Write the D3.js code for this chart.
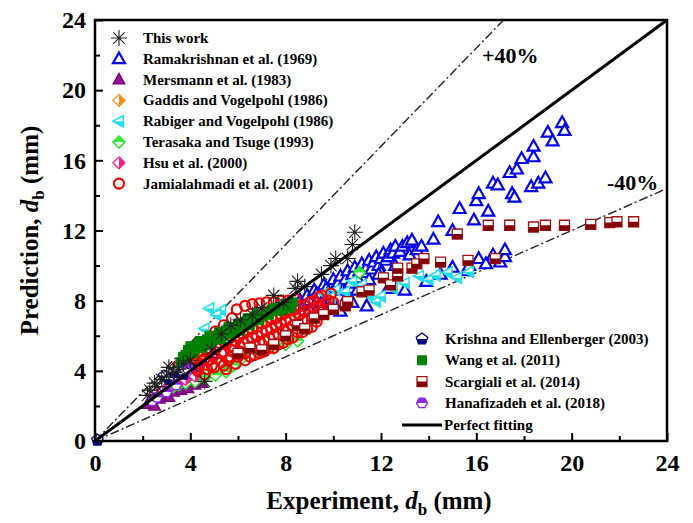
<!DOCTYPE html>
<html><head><meta charset="utf-8">
<script src="https://cdn.jsdelivr.net/npm/d3@7"></script>
<style>body{margin:0;background:#fff}svg{display:block}text{font-family:"Liberation Serif","Times New Roman",serif;font-weight:bold}</style>
</head><body><svg id="c" width="693" height="523"></svg>
<script>
const xTicks=[0,4,8,12,16,20,24];
const yTicks=[0,4,8,12,16,20,24];
const thisWork=[[2.2,2.6],[2.3,2.9],[2.5,3.3],[2.6,3.1],[2.8,3.5],[3.0,3.7],[3.1,4.2],[3.3,3.9],[3.5,4.1],[3.7,4.4],[4.0,4.6],[4.6,3.4],[4.9,5.2],[5.3,6.1],[5.7,6.6],[6.1,6.9],[6.6,7.2],[7.0,7.6],[7.5,8.3],[7.9,7.9],[8.4,8.7],[8.5,9.1],[8.8,8.8],[9.5,9.5],[9.9,10.0],[10.1,10.4],[10.6,10.4],[10.8,11.2],[10.9,11.9]];
const ramakrishnan=[[3.5,3.9],[4.0,4.3],[4.5,4.6],[5.0,5.0],[8.6,8.0],[8.8,7.8],[8.9,8.3],[9.0,8.0],[9.0,7.5],[9.2,8.6],[9.3,8.4],[9.4,8.2],[9.5,7.9],[9.6,8.9],[9.7,8.7],[9.8,8.5],[9.9,8.1],[10.0,9.2],[10.1,8.8],[10.2,9.0],[10.3,9.4],[10.4,8.6],[10.5,9.2],[10.6,9.7],[10.6,8.3],[10.7,9.0],[10.8,9.5],[10.9,9.9],[11.0,9.3],[11.0,8.6],[11.1,9.7],[11.2,10.1],[11.3,9.6],[11.4,9.9],[11.5,10.3],[11.5,9.2],[11.6,9.8],[11.7,10.2],[11.8,10.5],[11.9,10.0],[12.0,10.4],[12.0,9.6],[12.1,10.7],[12.2,10.3],[12.3,10.5],[12.4,10.9],[12.5,10.7],[12.6,11.1],[12.6,10.0],[12.8,10.8],[12.9,11.1],[13.1,11.3],[13.2,10.6],[13.3,11.45],[13.5,10.9],[13.7,11.1],[14.2,11.5],[14.4,12.5],[15.0,12.0],[15.3,13.25],[15.9,12.6],[16.0,13.7],[16.1,14.1],[16.5,13.1],[16.7,14.7],[16.9,14.6],[17.4,15.3],[17.5,14.1],[17.6,13.9],[17.7,15.5],[17.9,16.1],[18.3,14.5],[18.4,16.2],[18.4,16.8],[18.6,14.7],[18.9,15.0],[19.0,17.6],[19.2,17.1],[19.6,18.15],[19.7,17.7],[10.3,7.4],[10.8,7.9],[11.4,7.7],[11.9,9.5],[12.3,8.7],[13.0,8.6],[13.9,9.1],[14.5,9.5],[15.0,9.9],[15.6,9.7],[15.7,10.0],[16.1,10.4],[16.4,10.1],[16.7,10.6],[17.0,10.2],[17.2,10.5],[17.2,10.9]];
const mersmann=[[2.2,2.1],[2.35,2.3],[2.5,2.0],[2.7,2.4],[2.9,2.6],[3.1,2.5],[3.3,2.8],[3.6,2.9],[3.9,3.0],[4.2,3.2],[4.5,3.3]];
const gaddis=[[3.2,3.8],[3.6,4.2],[4.1,4.6],[4.5,5.0]];
const rabiger=[[4.6,6.4],[4.8,7.55],[5.3,7.45],[5.1,7.2],[9.6,8.4],[9.9,8.2],[10.1,8.6],[10.5,8.5],[10.8,9.1],[11.2,8.9],[11.5,8.3],[11.8,7.95],[12.0,8.25],[12.5,8.7],[13.0,9.0],[13.6,9.4],[14.0,9.2],[14.3,9.45],[14.8,9.6],[15.2,9.3],[15.7,9.65]];
const terasaka=[[3.3,3.1],[3.5,3.2],[3.8,3.3],[4.2,3.4],[4.6,3.6],[5.05,3.75],[5.5,3.95],[5.8,4.3],[6.15,4.7],[6.6,4.9],[7.0,5.1],[7.5,5.3],[8.0,5.5],[8.5,5.7],[11.1,9.6]];
const hsu=[[2.6,2.8],[2.9,2.9],[3.2,3.1],[3.5,3.3],[3.8,3.5],[4.2,3.7]];
const jamialahmadi=[[5.05,6.25],[5.4,6.6],[5.75,7.0],[5.95,7.5],[6.3,7.7],[6.6,7.8],[6.9,7.85],[7.2,7.9],[7.5,7.9],[7.8,8.0],[8.1,8.0],[8.4,8.1],[3.5,4.3],[3.6,4.0],[3.7,4.6],[3.8,4.4],[3.9,4.2],[4.0,4.9],[4.1,4.7],[4.2,4.5],[4.2,4.2],[4.3,4.0],[4.4,5.1],[4.4,4.4],[4.5,4.9],[4.6,4.7],[4.6,3.8],[4.7,4.1],[4.7,5.1],[4.8,5.3],[4.8,4.6],[4.9,4.3],[5.0,4.9],[5.0,4.2],[5.1,5.3],[5.1,4.7],[5.2,5.6],[5.3,4.5],[5.3,5.0],[5.4,5.1],[5.4,4.3],[5.5,4.1],[5.5,5.5],[5.6,5.8],[5.6,4.6],[5.7,4.8],[5.7,5.2],[5.8,5.4],[5.9,4.4],[5.9,5.7],[6.0,6.0],[6.0,4.8],[6.1,5.1],[6.1,5.4],[6.2,5.6],[6.2,6.1],[6.3,4.6],[6.3,5.0],[6.4,6.3],[6.4,5.7],[6.5,5.3],[6.5,4.8],[6.6,5.9],[6.6,6.4],[6.7,4.9],[6.7,5.4],[6.8,6.5],[6.8,6.0],[6.9,5.6],[6.9,5.0],[7.0,6.2],[7.0,6.7],[7.1,5.1],[7.1,5.7],[7.2,6.8],[7.2,6.3],[7.3,5.9],[7.3,5.3],[7.4,6.4],[7.4,7.0],[7.5,5.3],[7.5,6.0],[7.6,7.0],[7.6,6.6],[7.7,6.1],[7.7,5.5],[7.8,6.7],[7.8,7.2],[7.9,5.6],[7.9,6.3],[8.0,7.3],[8.0,6.9],[8.1,6.4],[8.1,5.8],[8.2,6.9],[8.2,7.5],[8.3,5.9],[8.3,6.6],[8.4,7.5],[8.4,7.1],[8.5,6.6],[8.5,6.2],[8.6,7.2],[8.6,7.7],[8.7,6.2],[8.7,6.9],[8.8,7.7],[8.8,7.4],[8.9,6.9],[8.9,6.4],[9.0,7.4],[9.0,7.9],[9.1,6.5],[9.1,7.1],[9.2,8.0],[9.2,7.6],[9.3,7.2],[9.3,6.8],[9.4,7.7],[9.4,8.2],[9.5,8.3],[9.5,7.4],[9.6,7.5],[9.7,7.8],[9.8,8.0],[9.9,8.4],[10.0,7.9]];
const krishna=[[0.1,0.05],[2.9,3.7],[3.1,3.5],[3.3,3.9],[3.5,4.0],[3.7,3.8],[3.9,4.2]];
const wang=[[3.6,4.5],[3.7,4.8],[3.8,4.9],[3.9,5.2],[4.0,5.4],[4.1,5.0],[4.2,5.2],[4.3,5.5],[4.4,5.7],[4.5,5.3],[4.6,5.5],[4.7,5.8],[4.8,6.0],[4.9,5.6],[5.0,5.8],[5.1,6.0],[5.2,6.2],[5.3,5.8],[5.4,6.0],[5.5,6.3],[5.6,6.5],[5.7,6.1],[5.8,6.3],[5.9,6.5],[6.0,6.7],[6.1,6.3],[6.2,6.5],[6.3,6.8],[6.4,7.0],[6.5,6.6],[6.6,6.8],[6.7,7.1],[6.8,7.3],[6.9,6.9],[7.0,7.1],[7.1,7.3],[7.3,7.2],[7.4,7.5],[7.6,7.6],[7.7,7.4],[7.9,7.5],[8.0,7.8],[8.2,7.6],[8.3,7.9]];
const scargiali=[[6.0,5.0],[6.5,5.3],[7.0,5.2],[7.5,5.5],[8.0,6.0],[8.5,6.6],[8.8,6.4],[9.2,7.0],[9.6,7.2],[10.0,7.5],[10.5,7.7],[10.6,7.95],[11.2,8.5],[11.5,8.6],[12.1,9.3],[12.4,8.9],[12.7,9.4],[12.7,9.85],[13.3,9.85],[13.5,10.1],[13.8,10.4],[14.5,10.2],[15.2,11.8],[15.65,10.3],[16.5,12.3],[16.8,10.4],[17.4,12.3],[18.4,12.2],[18.9,12.3],[19.7,12.3],[20.8,12.35],[21.6,12.45],[21.9,12.5],[22.6,12.5]];
const hanafizadeh=[[2.4,2.3],[2.6,2.5],[3.0,2.8],[3.4,3.2],[3.9,4.1]];

const W=693,H=523,L=95,R=667,T=20,B=441;
const svg=d3.select("#c");
const x=d3.scaleLinear().domain([0,24]).range([L,R]);
const y=d3.scaleLinear().domain([0,24]).range([B,T]);

const defs=svg.append("defs");
[["top",-20,-20,40,20],["bottom",-20,0,40,20],["left",-20,-20,20,40],["right",0,-20,20,40]].forEach(c=>{
  defs.append("clipPath").attr("id","clip-"+c[0]).append("rect").attr("x",c[1]).attr("y",c[2]).attr("width",c[3]).attr("height",c[4]);
});
defs.append("clipPath").attr("id","plotclip").append("rect").attr("x",L).attr("y",T).attr("width",R-L).attr("height",B-T);

function poly(pts){return "M"+pts.map(p=>p.join(",")).join("L")+"Z";}
function regular(n,r,rot){const a=[];for(let i=0;i<n;i++){const t=rot+i*2*Math.PI/n;a.push([r*Math.cos(t),r*Math.sin(t)]);}return poly(a);}
const shapes={
  triUp:r=>poly([[0,-r],[r*0.95,r*0.7],[-r*0.95,r*0.7]]),
  triLeft:r=>poly([[-r,0],[r*0.7,-r*0.95],[r*0.7,r*0.95]]),
  diamond:r=>poly([[0,-r],[r,0],[0,r],[-r,0]]),
  square:r=>poly([[-r,-r],[r,-r],[r,r],[-r,r]]),
  pentagon:r=>regular(5,r,-Math.PI/2),
  hexagon:r=>regular(6,r,0),
  circle:r=>`M${r},0A${r},${r} 0 1,1 ${-r},0A${r},${r} 0 1,1 ${r},0Z`,
  star:r=>{let s="";for(let i=0;i<4;i++){const t=i*Math.PI/4;s+=`M${r*Math.cos(t)},${r*Math.sin(t)}L${-r*Math.cos(t)},${-r*Math.sin(t)}`;}return s;}
};

const series=[
 {name:"This work",data:thisWork,shape:"star",r:8,stroke:"#222",fill:"none",sw:1.1},
 {name:"Ramakrishnan et al. (1969)",data:ramakrishnan,shape:"triUp",r:6.3,stroke:"#0000ee",fill:"#fff",sw:2.2},
 {name:"Mersmann et al. (1983)",data:mersmann,shape:"triUp",r:6,stroke:"#800080",fill:"#8b1a8b",sw:1.5},
 {name:"Gaddis and Vogelpohl (1986)",data:gaddis,shape:"diamond",r:6,stroke:"#ff8c1a",fill:"#fff",half:"right",hfill:"#ff8c1a",sw:1.3},
 {name:"Rabiger and Vogelpohl (1986)",data:rabiger,shape:"triLeft",r:6,stroke:"#22ddee",fill:"#fff",half:"bottom",hfill:"#22ddee",sw:1.5},
 {name:"Terasaka and Tsuge (1993)",data:terasaka,shape:"diamond",r:6,stroke:"#22dd22",fill:"#fff",half:"top",hfill:"#33ee33",sw:1.5},
 {name:"Hsu et al. (2000)",data:hsu,shape:"diamond",r:6,stroke:"#ee2288",fill:"#fff",half:"right",hfill:"#ee2288",sw:1.3},
 {name:"Jamialahmadi et al. (2001)",data:jamialahmadi,shape:"circle",r:5,stroke:"#ee0000",fill:"none",sw:2.2},
 {name:"Krishna and Ellenberger (2003)",data:krishna,shape:"pentagon",r:6,stroke:"#000080",fill:"#fff",half:"bottom",hfill:"#000080",sw:1.3},
 {name:"Wang et al. (2011)",data:wang,shape:"square",r:4.5,stroke:"#008000",fill:"#008000",sw:1},
 {name:"Scargiali et al. (2014)",data:scargiali,shape:"square",r:5,stroke:"#a01010",fill:"#fff",half:"bottom",hfill:"#800000",sw:1.3},
 {name:"Hanafizadeh et al. (2018)",data:hanafizadeh,shape:"hexagon",r:5.5,stroke:"#8a2be2",fill:"#fff",half:"top",hfill:"#8a2be2",sw:1.3}
];

function drawMarker(g,s){
  g.append("path").attr("d",shapes[s.shape](s.r)).attr("fill",s.fill).attr("stroke",s.stroke).attr("stroke-width",s.sw);
  if(s.half){g.append("path").attr("d",shapes[s.shape](s.r)).attr("fill",s.hfill).attr("stroke","none").attr("clip-path","url(#clip-"+s.half+")");}
}

const lines=svg.append("g").attr("clip-path","url(#plotclip)");
lines.append("line").attr("x1",x(0)).attr("y1",y(0)).attr("x2",x(24/1.4)).attr("y2",y(24)).attr("stroke","#222").attr("stroke-width",1.4).attr("stroke-dasharray","9,3,2,3");
lines.append("line").attr("x1",x(0)).attr("y1",y(0)).attr("x2",x(24)).attr("y2",y(24*0.6)).attr("stroke","#222").attr("stroke-width",1.4).attr("stroke-dasharray","9,3,2,3");

const order=[1,2,3,4,5,6,7,8,9,10,11,0];
const pts=svg.append("g");
order.forEach(i=>{const s=series[i];
  s.data.forEach(d=>{const g=pts.append("g").attr("transform",`translate(${x(d[0])},${y(d[1])})`);drawMarker(g,s);});
});
svg.append("line").attr("x1",x(0)).attr("y1",y(0)).attr("x2",x(24)).attr("y2",y(24)).attr("stroke","#000").attr("stroke-width",3);

const xAxis=d3.axisBottom(x).tickValues(d3.range(0,25,2)).tickSize(-8).tickFormat(d=>xTicks.includes(d)?d:"");
const yAxis=d3.axisLeft(y).tickValues(d3.range(0,25,2)).tickSize(-8).tickFormat(d=>yTicks.includes(d)?d:"");
const gx=svg.append("g").attr("transform",`translate(0,${B})`).call(xAxis);
const gy=svg.append("g").attr("transform",`translate(${L},0)`).call(yAxis);
[gx,gy].forEach(g=>{g.select(".domain").remove();g.selectAll(".tick line").attr("stroke","#000").attr("stroke-width",2);
  g.selectAll(".tick text").style("font-size","24px").attr("fill","#000");});
gx.selectAll(".tick").filter(d=>!xTicks.includes(d)).select("line").attr("y2",-5);
gy.selectAll(".tick").filter(d=>!yTicks.includes(d)).select("line").attr("x2",5);
gx.selectAll(".tick text").attr("y",13).attr("dy","0.71em");
gy.selectAll(".tick text").attr("x",-9);
svg.append("rect").attr("x",L).attr("y",T).attr("width",R-L).attr("height",B-T).attr("fill","none").attr("stroke","#000").attr("stroke-width",2.5);

const xt=svg.append("text").attr("x",(L+R)/2-2).attr("y",509).attr("text-anchor","middle").style("font-size","25px");
xt.append("tspan").text("Experiment, ");xt.append("tspan").style("font-style","italic").text("d");
xt.append("tspan").attr("dy",6).style("font-size","17px").text("b");xt.append("tspan").attr("dy",-6).text(" (mm)");
const yt=svg.append("text").attr("transform",`translate(38,${(T+B)/2}) rotate(-90)`).attr("text-anchor","middle").style("font-size","25px");
yt.append("tspan").text("Prediction, ");yt.append("tspan").style("font-style","italic").text("d");
yt.append("tspan").attr("dy",6).style("font-size","17px").text("b");yt.append("tspan").attr("dy",-6).text(" (mm)");

svg.append("text").attr("x",482).attr("y",63).style("font-size","22px").text("+40%");
svg.append("text").attr("x",607).attr("y",190).style("font-size","22px").text("-40%");

const leg1=series.slice(0,8);
leg1.forEach((s,i)=>{const yy=38+i*20.8;
  const g=svg.append("g").attr("transform",`translate(119,${yy})`);drawMarker(g,s);
  svg.append("text").attr("x",143).attr("y",yy+5).style("font-size","15px").text(s.name);});
const leg2=series.slice(8);
leg2.forEach((s,i)=>{const yy=339+i*21.3;
  const g=svg.append("g").attr("transform",`translate(422,${yy})`);drawMarker(g,s);
  svg.append("text").attr("x",445).attr("y",yy+5).style("font-size","15px").text(s.name);});
svg.append("line").attr("x1",402).attr("x2",442).attr("y1",425).attr("y2",425).attr("stroke","#000").attr("stroke-width",3);
svg.append("text").attr("x",444).attr("y",430).style("font-size","15px").text("Perfect fitting");
</script></body></html>
